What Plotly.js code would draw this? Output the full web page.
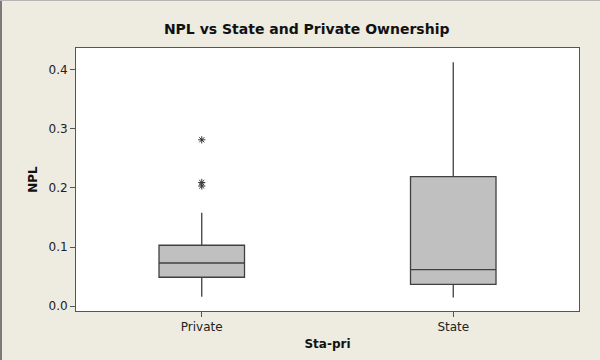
<!DOCTYPE html>
<html>
<head>
<meta charset="utf-8">
<script src="https://cdn.plot.ly/plotly-3.0.1.min.js"></script>
<style>
  html, body { margin: 0; padding: 0; background: #EEEBE1; }
  #chart { width: 600px; height: 360px; }
</style>
</head>
<body>
<div id="chart"></div>
<script>
// Ownership groups and NPL box statistics
const categories = ['Private', 'State'];
const q1Values = [0.049, 0.037];
const medianValues = [0.073, 0.062];
const q3Values = [0.103, 0.219];
const lowerWhiskers = [0.016, 0.015];
const upperWhiskers = [0.158, 0.412];

// Points beyond the whiskers
const outlierGroup = ['Private', 'Private', 'Private'];
const outlierValues = [0.281, 0.209, 0.203];

const yTickValues = [0.0, 0.1, 0.2, 0.3, 0.4];

const M = { l: 76, r: 21, t: 48, b: 49 };
const W = 600, H = 360;
const pw = W - M.l - M.r, ph = H - M.t - M.b;
const px = x => (x - M.l) / pw;
const py = y => (H - M.b - y) / ph;

const boxTrace = {
  type: 'box',
  x: categories,
  q1: q1Values,
  median: medianValues,
  q3: q3Values,
  lowerfence: lowerWhiskers,
  upperfence: upperWhiskers,
  width: 0.34,
  whiskerwidth: 0,
  boxpoints: false,
  fillcolor: '#C0C0C0',
  line: { color: '#404040', width: 1.3 },
  hoverinfo: 'skip'
};

const outlierTrace = {
  type: 'scatter',
  mode: 'markers',
  x: outlierGroup,
  y: outlierValues,
  marker: {
    symbol: 'asterisk-open',
    size: 6,
    color: '#333333',
    line: { color: '#333333', width: 1 }
  },
  hoverinfo: 'skip'
};

const baseFont = { family: 'DejaVu Sans, sans-serif', size: 12, color: '#222222' };

const layout = {
  width: W,
  height: H,
  margin: M,
  paper_bgcolor: '#EEEBE1',
  plot_bgcolor: '#FFFFFF',
  showlegend: false,
  font: baseFont,
  title: {
    text: 'NPL vs State and Private Ownership',
    font: { family: 'DejaVu Sans, sans-serif', size: 14, color: '#111111', weight: 'bold' },
    xref: 'container', yref: 'container',
    x: 306.7 / W, xanchor: 'center',
    y: 1 - 29 / H, yanchor: 'middle'
  },
  xaxis: {
    type: 'category',
    range: [-0.5, 1.5],
    showline: true, mirror: true,
    linecolor: '#555555', linewidth: 1,
    ticks: 'outside', ticklen: 5, tickcolor: '#555555',
    showgrid: false, zeroline: false,
    tickfont: baseFont,
    title: {
      text: 'Sta-pri',
      font: { family: 'DejaVu Sans, sans-serif', size: 12, color: '#111111', weight: 'bold' },
      standoff: 6
    }
  },
  yaxis: {
    range: [-0.008, 0.436],
    tickvals: yTickValues,
    tickformat: '.1f',
    showline: true, mirror: true,
    linecolor: '#555555', linewidth: 1,
    ticks: 'outside', ticklen: 5, tickcolor: '#555555',
    showgrid: false, zeroline: false,
    tickfont: baseFont,
    title: {
      text: 'NPL',
      font: { family: 'DejaVu Sans, sans-serif', size: 12, color: '#111111', weight: 'bold' },
      standoff: 8
    }
  },
  shapes: [
    // outer frame edges (left and top)
    { type: 'line', xref: 'paper', yref: 'paper',
      x0: px(1), x1: px(1), y0: py(H), y1: py(0),
      line: { color: '#7a7a7a', width: 2 } },
    { type: 'line', xref: 'paper', yref: 'paper',
      x0: px(0), x1: px(W), y0: py(0.5), y1: py(0.5),
      line: { color: '#b4b4b4', width: 1 } }
  ]
};

Plotly.newPlot('chart', [boxTrace, outlierTrace], layout, { staticPlot: true, displayModeBar: false });
</script>
</body>
</html>
